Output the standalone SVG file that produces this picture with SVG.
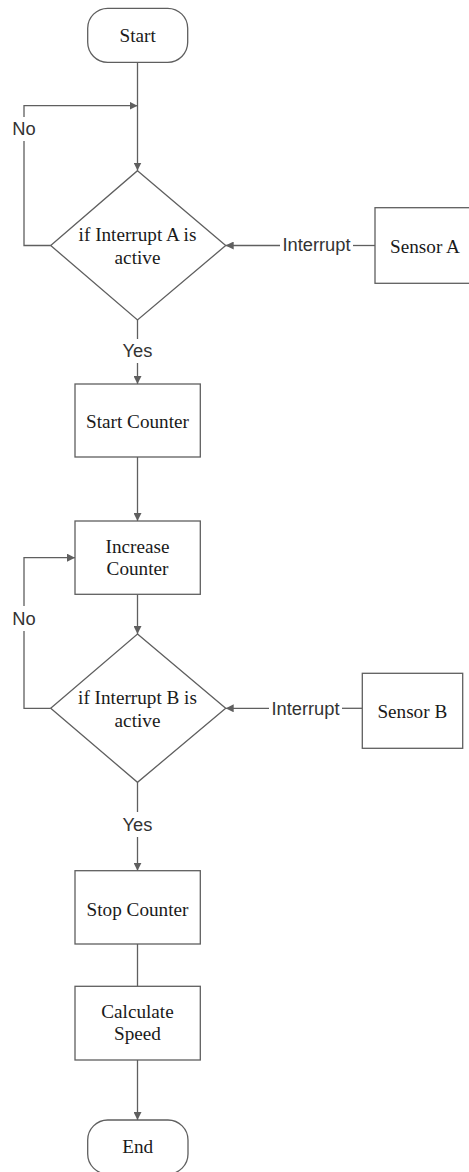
<svg xmlns="http://www.w3.org/2000/svg" width="469" height="1172" viewBox="0 0 469 1172">
<style>
.shape{fill:#fff;stroke:#5f5f5f;stroke-width:1.3}
.edge{fill:none;stroke:#5f5f5f;stroke-width:1.3}
.t{font-family:"Liberation Serif","Times New Roman",serif;font-size:19.2px;fill:#1a1a1a;text-anchor:middle;dominant-baseline:central}
.lbl{font-family:"Liberation Sans",Arial,sans-serif;font-size:18.3px;fill:#333;text-anchor:middle;dominant-baseline:central}
</style>
<defs>
<marker id="arr" viewBox="0 0 10 10" refX="10" refY="5" markerWidth="8" markerHeight="8" markerUnits="userSpaceOnUse" orient="auto">
<path d="M0,0 L10,5 L0,10 z" fill="#5f5f5f"/>
</marker>
</defs>
<rect width="469" height="1172" fill="#fff"/>
<g id="connectors">
<path class="edge" d="M137.5,62.5 V170.5" marker-end="url(#arr)"/>
<path class="edge" d="M50.7,245.5 H24 V141"/>
<path class="edge" d="M24,117 V105.7 H137.5" marker-end="url(#arr)"/>
<path class="edge" d="M375,245.5 H353"/>
<path class="edge" d="M280,245.5 H225.7" marker-end="url(#arr)"/>
<path class="edge" d="M137.5,320 V339"/>
<path class="edge" d="M137.5,363 V384" marker-end="url(#arr)"/>
<path class="edge" d="M137.5,457 V521" marker-end="url(#arr)"/>
<path class="edge" d="M137.5,594.3 V634" marker-end="url(#arr)"/>
<path class="edge" d="M50.7,708.3 H24 V631"/>
<path class="edge" d="M24,606 V557.7 H75" marker-end="url(#arr)"/>
<path class="edge" d="M362.3,708.3 H342"/>
<path class="edge" d="M269,708.3 H225.7" marker-end="url(#arr)"/>
<path class="edge" d="M137.5,782.3 V812"/>
<path class="edge" d="M137.5,837 V870.7" marker-end="url(#arr)"/>
<path class="edge" d="M137.5,944 V986.3"/>
<path class="edge" d="M137.5,1060 V1120" marker-end="url(#arr)"/>
<text class="lbl" x="24" y="128.5">No</text>
<text class="lbl" x="316.5" y="244.5">Interrupt</text>
<text class="lbl" x="137.5" y="350.5">Yes</text>
<text class="lbl" x="24" y="618.5">No</text>
<text class="lbl" x="305.5" y="708">Interrupt</text>
<text class="lbl" x="137.5" y="824.5">Yes</text>
</g>
<g id="start">
<rect class="shape" x="87.7" y="8.3" width="100" height="54" rx="20" ry="20"/>
<text class="t" x="137.7" y="35">Start</text>
</g>
<g id="decisionA">
<polygon class="shape" points="137.5,170.7 225.7,245.5 137.5,320 50.7,245.5"/>
<text class="t" x="137.5" y="234">if Interrupt A is</text>
<text class="t" x="137.5" y="257">active</text>
</g>
<g id="sensorA">
<rect class="shape" x="375" y="207.7" width="100" height="75.6"/>
<text class="t" x="425" y="246.5">Sensor A</text>
</g>
<g id="startCounter">
<rect class="shape" x="75" y="384" width="125.3" height="73"/>
<text class="t" x="137.5" y="421.5">Start Counter</text>
</g>
<g id="increaseCounter">
<rect class="shape" x="75" y="521" width="125.3" height="73.3"/>
<text class="t" x="137.5" y="546.5">Increase</text>
<text class="t" x="137.5" y="568.5">Counter</text>
</g>
<g id="decisionB">
<polygon class="shape" points="137.5,634 225.7,708.3 137.5,782.3 50.7,708.3"/>
<text class="t" x="137.5" y="697">if Interrupt B is</text>
<text class="t" x="137.5" y="720">active</text>
</g>
<g id="sensorB">
<rect class="shape" x="362.3" y="673.3" width="100.4" height="75"/>
<text class="t" x="412.3" y="711.5">Sensor B</text>
</g>
<g id="stopCounter">
<rect class="shape" x="75" y="870.7" width="125.3" height="73.3"/>
<text class="t" x="137.5" y="909">Stop Counter</text>
</g>
<g id="calculateSpeed">
<rect class="shape" x="75" y="986.3" width="125.3" height="73.7"/>
<text class="t" x="137.5" y="1011.5">Calculate</text>
<text class="t" x="137.5" y="1033.5">Speed</text>
</g>
<g id="end">
<rect class="shape" x="87.7" y="1120" width="100.3" height="54" rx="20" ry="20"/>
<text class="t" x="137.7" y="1146.5">End</text>
</g>
</svg>
